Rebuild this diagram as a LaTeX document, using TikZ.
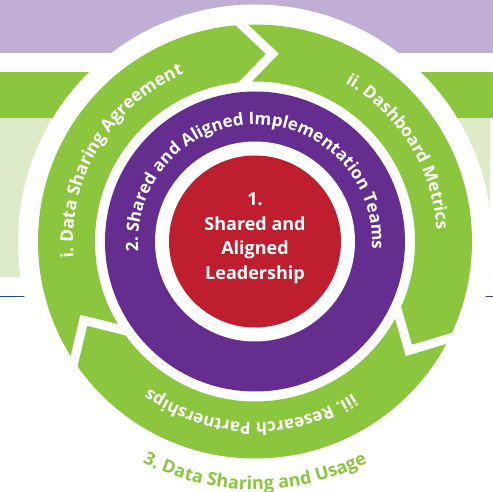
\documentclass[tikz,border=0pt]{standalone}
\usepackage{fontspec}
\setmainfont{Open Sans}
\usetikzlibrary{decorations.text,calc}

\definecolor{lavender}{RGB}{192,174,212}
\definecolor{leafgreen}{RGB}{140,198,63}
\definecolor{palegreen}{RGB}{221,235,200}
\definecolor{ringpurple}{RGB}{102,45,145}
\definecolor{corered}{RGB}{190,30,45}
\definecolor{lineblue}{RGB}{31,78,154}

\begin{document}
\begin{tikzpicture}[x=1pt,y=1pt,
    gap/.style={white, line width=9pt, line join=miter},
    ringtext/.style={decorate, decoration={text along path, text align=center, text color=white}}]

  \useasboundingbox (0,0) rectangle (493,491);
  \coordinate (c) at (255,249.5);

  % bands behind the wheel
  \fill[lavender] (0,438) rectangle (493,491);
  \fill[leafgreen] (0,373) rectangle (493,419);
  \fill[palegreen] (0,214) rectangle (490,373);
  \draw[lineblue, line width=1pt] (0,195) -- (493,195);

  % wheel
  \fill[white] (c) circle (237);
  \fill[leafgreen, even odd rule] (c) circle (217) (c) circle (160);

  % chevron cuts between the three arrows
  \foreach \a [count=\i] in {93.5,-26.5,213.5} {
    \coordinate (tip\i) at ($(c)+(\a-8.8:188.5)$);
    \coordinate (out\i) at ($(c)+(\a:217)$);
    \coordinate (in\i) at ($(c)+(\a:160)$);
    \draw[gap] ($(tip\i)!1.4!(out\i)$) -- (tip\i) -- ($(tip\i)!1.4!(in\i)$);
  }

  \fill[ringpurple] (c) circle (150);
  \fill[white] (c) circle (100);
  \fill[corered] (c) circle (86);

  \node[align=center, text=white, font=\bfseries\fontsize{18}{24.5}\selectfont] (lead)
    at ($(c)+(0,3.5)$) {1.\\Shared and\\Aligned\\Leadership};

  % text on the rings
  \path[ringtext, decoration={text={|\bfseries\fontsize{17}{17}\selectfont|2. Shared and Aligned Implementation Teams}}]
    ($(c)+(210.5:117)$) arc[start angle=210.5, end angle=-29.5, radius=117];
  \path[ringtext, decoration={text={|\bfseries\fontsize{17.5}{17}\selectfont|i. Data Sharing Agreement}}]
    ($(c)+(219:182)$) arc[start angle=219, end angle=79, radius=182];
  \path[ringtext, decoration={text={|\bfseries\fontsize{17}{17}\selectfont|ii. Dashboard Metrics}}]
    ($(c)+(102:182)$) arc[start angle=102, end angle=-38, radius=182];
  \path[ringtext, decoration={text={|\bfseries\fontsize{17}{17}\selectfont|iii. Research Partnerships}}]
    ($(c)+(-21.5:181)$) arc[start angle=-21.5, end angle=-161.5, radius=181];
  \path[decorate, decoration={text along path, text align=center, text color=leafgreen,
      text={|\bfseries\fontsize{18}{18}\selectfont|3. Data Sharing and Usage}}]
    ($(c)+(-150:248)$) arc[start angle=-150, end angle=-30, radius=248];

\end{tikzpicture}
\end{document}
